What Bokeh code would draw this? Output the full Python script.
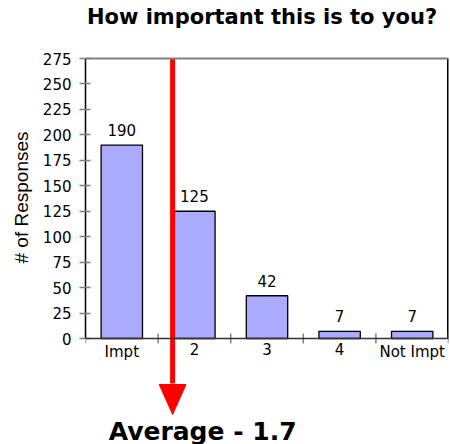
from math import pi
from bokeh.plotting import figure
from bokeh.models import ColumnDataSource, FixedTicker, Range1d, LabelSet, Span, Title
from bokeh.core.properties import value
from bokeh.embed import file_html
from bokeh.resources import INLINE

# ---- data ----
categories = ["Impt", "2", "3", "4", "Not Impt"]
responses = [190, 125, 42, 7, 7]
average = 1.7
y_ticks = [0, 25, 50, 75, 100, 125, 150, 175, 200, 225, 250, 275]
title_text = "How important this is to you?"
y_label = "# of Responses"
average_text = f"Average - {average}"

positions = list(range(1, len(categories) + 1))
boundaries = [x - 0.5 for x in positions] + [positions[-1] + 0.5]
y_max = y_ticks[-1]

# ---- layout (pixels) ----
W, H = 450, 444
LEFT, RIGHT = 82, 2
BOX_TOP = 58                        # pixel row of y = y_max
AXIS_PX = 280                       # pixels from y=0 to y=y_max
px_per_y = AXIS_PX / y_max
frame_w = W - LEFT - RIGHT
px_per_x = frame_w / (boundaries[-1] - boundaries[0])
y_top = y_max + BOX_TOP / px_per_y
y_min = -(H - BOX_TOP - AXIS_PX) / px_per_y

FONT = "DejaVu Sans"

src = ColumnDataSource(dict(x=positions, top=responses,
                            label=[str(v) for v in responses]))

p = figure(width=W, height=H, output_backend="svg", toolbar_location=None,
           x_range=Range1d(boundaries[0], boundaries[-1]),
           y_range=Range1d(y_min, y_top), x_axis_location=None,
           min_border_left=LEFT, min_border_right=RIGHT, min_border_top=0,
           min_border_bottom=0)
p.grid.visible = False
p.outline_line_color = None
p.background_fill_color = "white"
p.border_fill_color = "white"

# bars
p.vbar(x="x", top="top", bottom=0, width=0.57, source=src,
       fill_color="#AAAAFF", line_color="black", line_width=1.3)
p.add_layout(LabelSet(x="x", y="top", text="label", source=src,
                      text_align="center", text_baseline="alphabetic",
                      y_offset=9, text_font=value(FONT), text_font_size="15px",
                      text_color="black"))

# plot box: top (gray), right (black), baseline
p.add_layout(Span(location=y_max, dimension="width", line_color="#808080",
                  line_width=2))
p.segment(x0=boundaries[-1], y0=0, x1=boundaries[-1], y1=y_max,
          line_color="black", line_width=3)
p.add_layout(Span(location=0, dimension="width", line_color="#333333",
                  line_width=1.5))

# x "axis": boundary ticks and category labels
p.scatter(x=boundaries, y=[0] * len(boundaries), marker="dash", size=10,
          angle=pi / 2, line_color="#808080", line_width=1.5)
p.text(x=positions, y=[0] * len(positions), text=categories,
       text_align="center", text_baseline="top", y_offset=4,
       text_font=value(FONT), text_font_size="15px", text_color="black")

# chart title (text placed in the space above the box)
mid_x = (boundaries[0] + boundaries[-1]) / 2
p.text(x=[mid_x], y=[y_max + 54 / px_per_y], text=[title_text],
       text_align="center", text_baseline="top", x_offset=-5,
       text_font=value(FONT), text_font_style="bold", text_font_size="21px",
       text_color="black")

# y axis
ya = p.yaxis[0]
ya.bounds = (0, y_max)
ya.ticker = FixedTicker(ticks=y_ticks)
ya.major_tick_in = 5
ya.major_tick_out = 6
ya.major_tick_line_color = "#808080"
ya.major_tick_line_width = 1.5
ya.minor_tick_line_color = None
ya.axis_line_color = "black"
ya.axis_line_width = 1.5
ya.major_label_standoff = 8
ya.major_label_text_font = FONT
ya.major_label_text_font_size = "15px"
ya.major_label_text_color = "black"

# y axis title as a side title, placed along the 0..y_max span
p.add_layout(Title(text=y_label, align="left", offset=181, standoff=16,
                   text_font="Liberation Sans", text_font_size="19px",
                   text_font_style="normal", text_color="black"), "left")

# average arrow: shaft + head (head size given in pixels)
HEAD_W_PX, HEAD_L_PX, TIP_PX = 27, 30, 76   # tip below the baseline
tip_y = -TIP_PX / px_per_y
head_top = tip_y + HEAD_L_PX / px_per_y
half_w = HEAD_W_PX / 2 / px_per_x
p.segment(x0=average, y0=y_max, x1=average, y1=head_top + 1,
          line_color="#FF0000", line_width=5)
p.patch(x=[average - half_w, average + half_w, average],
        y=[head_top, head_top, tip_y], fill_color="#FF0000",
        line_color="#FF0000", line_width=1)

# average label
p.text(x=[average], y=[-78 / px_per_y], text=[average_text],
       text_align="center", text_baseline="top", x_offset=30,
       text_font=value(FONT), text_font_style="bold", text_font_size="25px",
       text_color="black")

open("out.html", "w").write(file_html(p, INLINE))
